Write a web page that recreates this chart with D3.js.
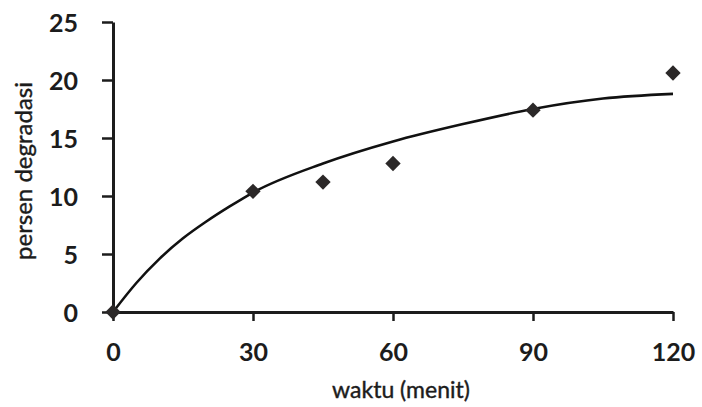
<!DOCTYPE html>
<html>
<head>
<meta charset="utf-8">
<script src="https://cdn.jsdelivr.net/npm/d3@7"></script>
<style>
  html, body { margin: 0; padding: 0; background: #fff; }
  svg { display: block; }
</style>
</head>
<body>
<svg id="chart" width="702" height="407"></svg>
<script>
// ---- data ----
const times = [0, 30, 45, 60, 90, 120];
const degradation = [0, 10.4, 11.2, 12.8, 17.4, 20.6];
const trendTimes = [0, 5, 10, 15, 20, 25, 30, 45, 60, 75, 90, 105, 120];
const trendValues = [0, 2.5, 4.6, 6.35, 7.8, 9.1, 10.3, 12.8, 14.7, 16.2, 17.5, 18.4, 18.8];
const xTicks = [0, 30, 60, 90, 120];
const yTicks = [0, 5, 10, 15, 20, 25];
const xTitle = "waktu (menit)";
const yTitle = "persen degradasi";

// ---- layout ----
const svg = d3.select("#chart");
const x = d3.scaleLinear().domain([0, 120]).range([113, 673]);
const y = d3.scaleLinear().domain([0, 25]).range([312, 22]);
const ink = "#1c1c1c";
const font = "Lato, 'Open Sans', sans-serif";

// axes
const xAxis = svg.append("g").attr("transform", `translate(0,${y(0)})`)
  .call(d3.axisBottom(x).tickValues(xTicks).tickSize(9).tickPadding(22).tickSizeOuter(0));
const yAxis = svg.append("g").attr("transform", `translate(${x(0)},0)`)
  .call(d3.axisLeft(y).tickValues(yTicks).tickSize(11).tickPadding(24).tickSizeOuter(0));

[xAxis, yAxis].forEach(g => {
  g.select(".domain").attr("stroke", ink).attr("stroke-width", 3);
  g.selectAll(".tick line").attr("stroke", ink).attr("stroke-width", 2.5);
  g.selectAll(".tick text")
    .attr("fill", ink)
    .style("font-family", font)
    .style("font-weight", "bold")
    .style("font-size", "25px");
});
xAxis.selectAll(".tick text").attr("dy", "0.71em");
yAxis.selectAll(".tick text").attr("dy", "0.36em");

// trend line
const line = d3.line()
  .x((d, i) => x(trendTimes[i]))
  .y(d => y(d))
  .curve(d3.curveMonotoneX);
svg.append("path")
  .datum(trendValues)
  .attr("d", line)
  .attr("fill", "none")
  .attr("stroke", "#111")
  .attr("stroke-width", 2.6);

// markers
const diamond = d3.symbol().type(d3.symbolDiamond2).size(150);
svg.append("g").selectAll("path")
  .data(times)
  .join("path")
  .attr("d", diamond)
  .attr("transform", (d, i) => `translate(${x(d)},${y(degradation[i])})`)
  .attr("fill", "#2b2828");

// axis titles
svg.append("text")
  .attr("x", 401)
  .attr("y", 398)
  .attr("text-anchor", "middle")
  .attr("fill", ink)
  .attr("stroke", ink)
  .attr("stroke-width", 0.4)
  .style("font-family", font)
  .style("font-size", "23px")
  .text(xTitle);

svg.append("text")
  .attr("transform", `translate(32,${171}) rotate(-90)`)
  .attr("text-anchor", "middle")
  .attr("fill", ink)
  .attr("stroke", ink)
  .attr("stroke-width", 0.4)
  .style("font-family", font)
  .style("font-size", "24px")
  .text(yTitle);
</script>
</body>
</html>
